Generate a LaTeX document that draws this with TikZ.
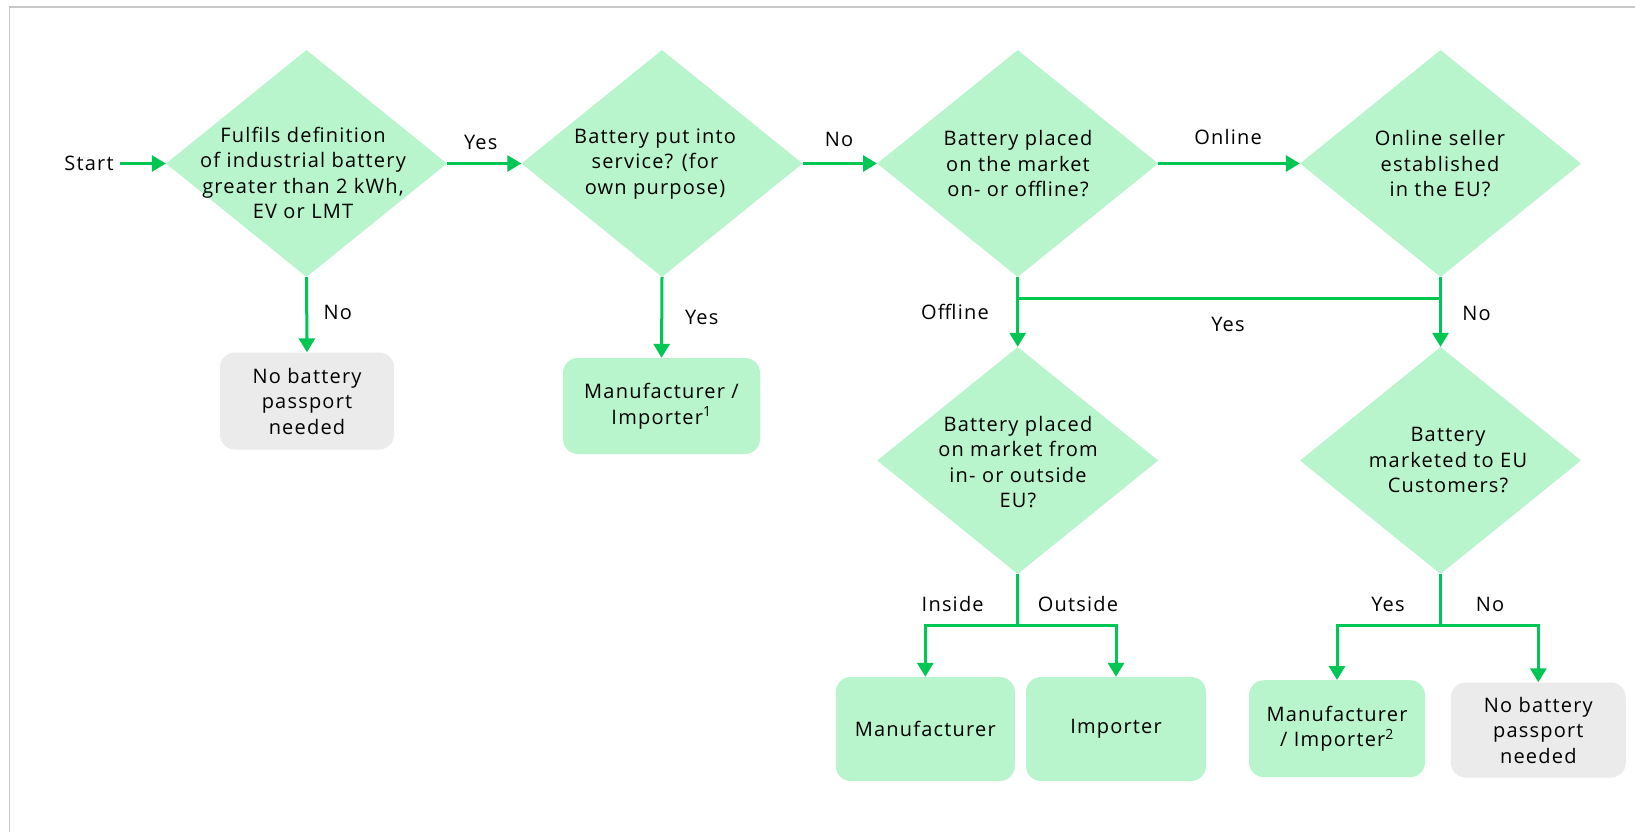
\documentclass[tikz,border=0pt]{standalone}
\usepackage{fontspec}
\setmainfont[LetterSpace=6]{Open Sans}
\usetikzlibrary{shapes.geometric,arrows.meta}
\definecolor{lnG}{RGB}{0,199,83}
\definecolor{fillG}{RGB}{184,245,204}
\definecolor{fillGr}{RGB}{235,235,235}
\definecolor{frameC}{RGB}{200,200,200}
\begin{document}
\begin{tikzpicture}[x=1pt,y=-1pt,
  decision/.style={diamond, fill=fillG, minimum width=281pt, minimum height=227pt, inner sep=0pt},
  txt/.style={align=center, inner sep=0pt, font=\fontsize{20}{25.5}\selectfont},
  gbox/.style={rectangle, rounded corners=15pt, fill=fillG, align=center, inner sep=0pt, font=\fontsize{20}{25.5}\selectfont},
  greybox/.style={gbox, fill=fillGr},
  lbl/.style={inner sep=0pt, font=\fontsize{20}{25.5}\selectfont},
  lnk/.style={draw=lnG, line width=3pt},
  arr/.style={lnk, -{Triangle[length=14pt,width=16pt]}}
]
\useasboundingbox (0,0) rectangle (1635,832);
\fill[white] (0,0) rectangle (1635,832);
\draw[frameC, line width=1.3pt] (9.5,832) -- (9.5,7) -- (1635,7);

% decisions
\node[decision] (d1) at (306.5,163.5) {};
\node[decision] (d2) at (662,163.5) {};
\node[decision] (d3) at (1017.7,163.5) {};
\node[decision] (d4) at (1440.5,163.5) {};
\node[decision] (d5) at (1017.7,460.5) {};
\node[decision] (d6) at (1440.5,460.5) {};

\node[txt] (t1) at (303,173) {Fulfils definition\\of industrial battery\\greater than 2 kWh,\\EV or LMT};
\node[txt] (t2) at (655,164) {Battery put into\\service? (for\\own purpose)};
\node[txt] (t3) at (1018,164) {Battery placed\\on the market\\on- or offline?};
\node[txt] (t4) at (1440,164) {Online seller\\established\\in the EU?};
\node[txt] (t5) at (1018,462) {Battery placed\\on market from\\in- or outside\\EU?};
\node[txt] (t6) at (1448,460) {Battery\\marketed to EU\\Customers?};

% boxes
\node[greybox, minimum width=174pt, minimum height=97pt] (nb1) at (307,401) {No battery\\passport\\needed};
\node[gbox, minimum width=197pt, minimum height=96pt] (mi1) at (661.5,406) {Manufacturer /\\Importer\textsuperscript{1}};
\node[gbox, minimum width=179pt, minimum height=104pt] (man) at (925.3,729) {Manufacturer};
\node[gbox, minimum width=180pt, minimum height=104pt] (imp) at (1116,729) {Importer};
\node[gbox, minimum width=176pt, minimum height=97pt] (mi2) at (1337,728.7) {Manufacturer\\/ Importer\textsuperscript{2}};
\node[greybox, minimum width=175pt, minimum height=95pt] (nb2) at (1538.3,730) {No battery\\passport\\needed};

% start
\node[lbl] (start) at (89,163.5) {Start};
\draw[arr] ([xshift=6pt]start.east) -- (d1.west);

% top row
\draw[arr] (d1.east) -- (d2.west);
\node[lbl] (y1) at (480.7,142.8) {Yes};
\draw[arr] (d2.east) -- (d3.west);
\node[lbl] (n2) at (839,139.7) {No};
\draw[arr] (d3.east) -- (d4.west);
\node[lbl] (on) at (1228,136.6) {Online};

% downward
\draw[arr] (d1.south) -- (nb1.north);
\node[lbl] (n1) at (337.8,312.8) {No};
\draw[arr] (d2.south) -- (mi1.north);
\node[lbl] (y2) at (701.7,317) {Yes};

\coordinate (j1) at (1017.7,298.2);
\draw[arr] (d3.south) -- (d5.north);
\draw[arr] (d4.south) -- (d6.north);
\draw[lnk] (j1) -- (d4.south |- j1);
\node[lbl] (off) at (955,311.8) {Offline};
\node[lbl] (y3) at (1228,324.3) {Yes};
\node[lbl] (n3) at (1476.5,313.8) {No};

\coordinate (j2) at (1017.7,625.7);
\draw[lnk] (d5.south) -- (j2);
\draw[arr] (j2) -| (man.north);
\draw[arr] (j2) -| (imp.north);
\node[lbl] (ins) at (952.7,604) {Inside};
\node[lbl] (outs) at (1078,604) {Outside};

\coordinate (j3) at (1440.5,625.7);
\draw[lnk] (d6.south) -- (j3);
\draw[arr] (j3) -| (mi2.north);
\draw[arr] (j3) -| (nb2.north);
\node[lbl] (y4) at (1388,604) {Yes};
\node[lbl] (n4) at (1490,604) {No};
\end{tikzpicture}
\end{document}
